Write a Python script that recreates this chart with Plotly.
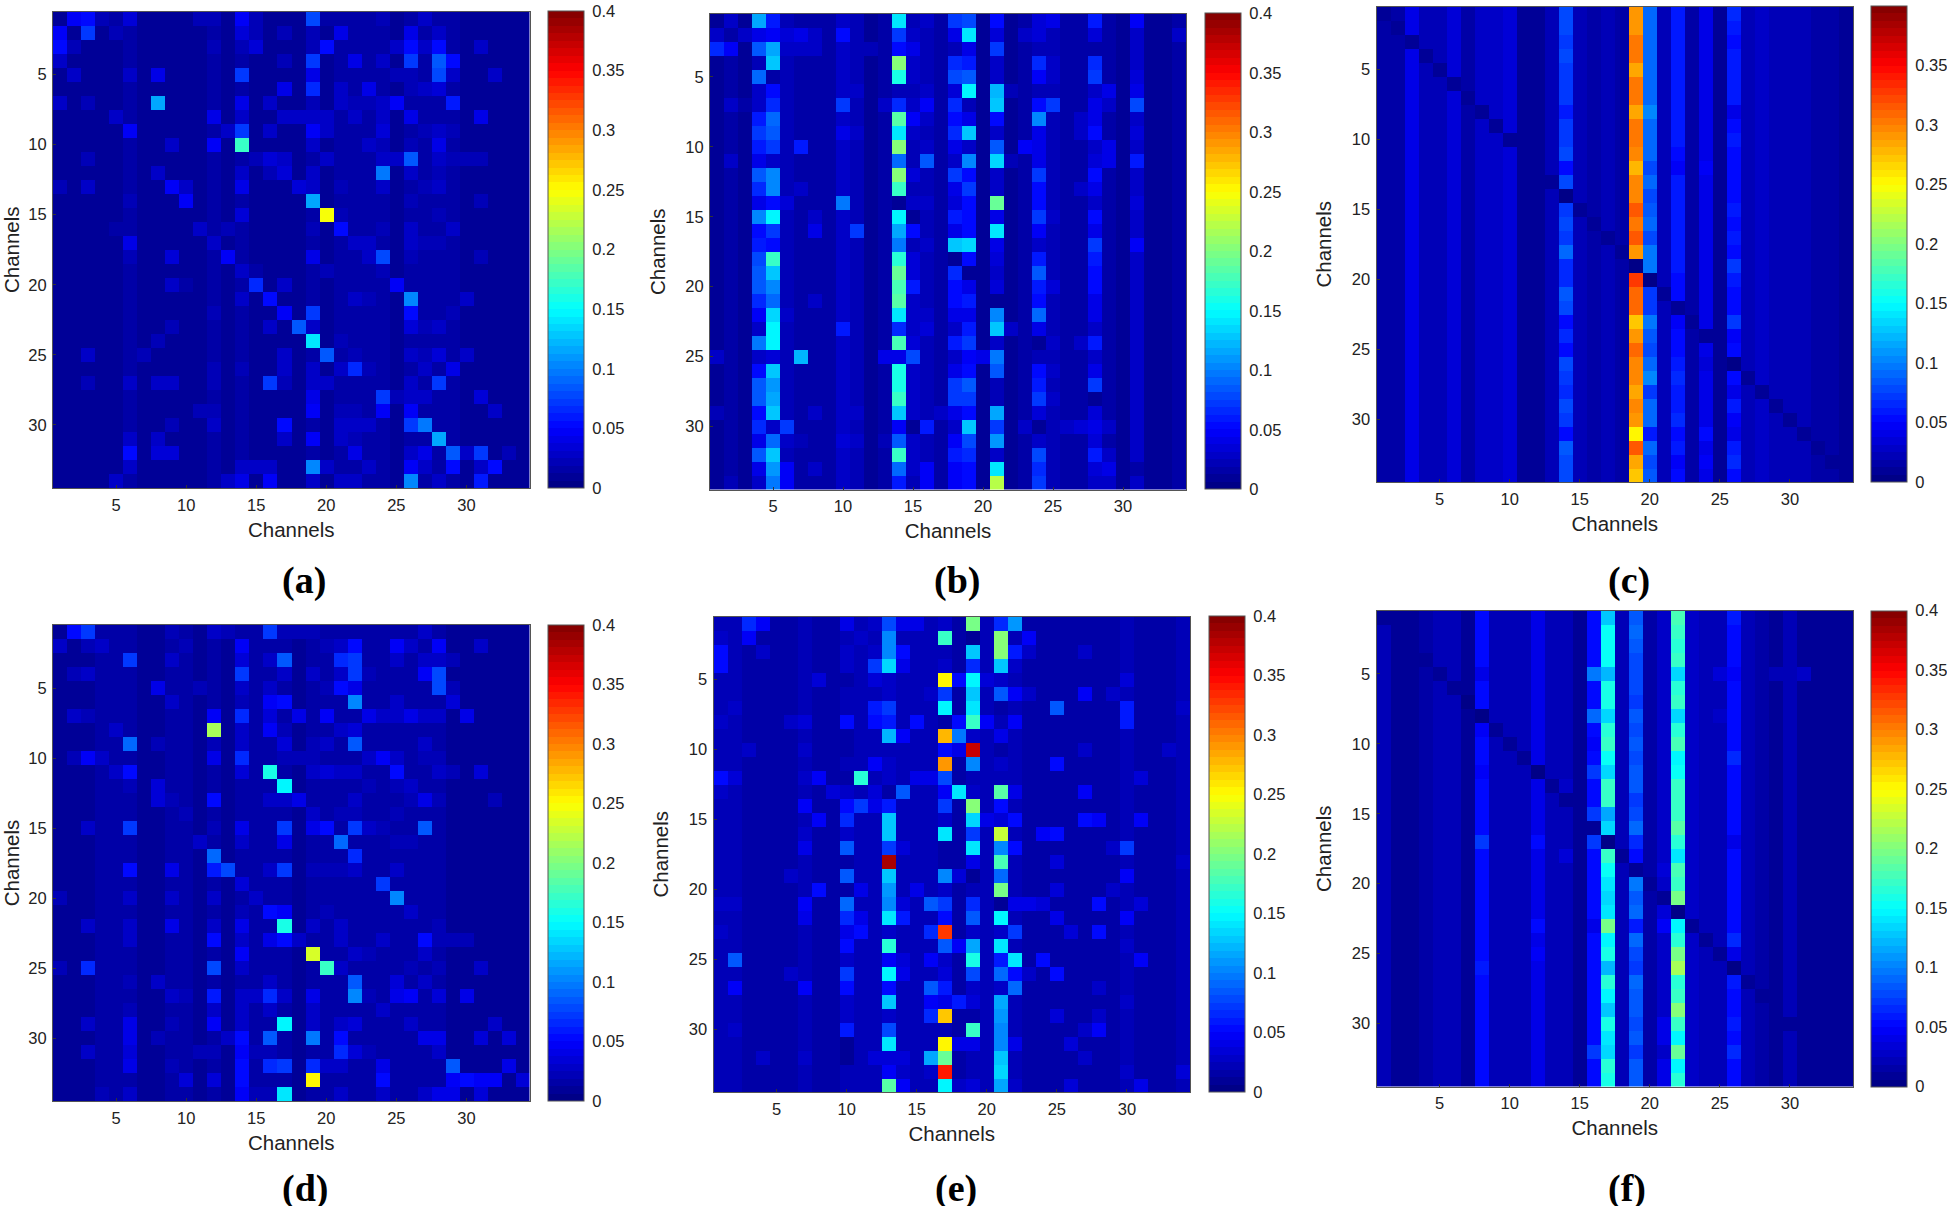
import plotly.graph_objects as go

# all values are thousandths of the colour scale (0 .. 400 -> 0 .. 0.4)
channels = list(range(1, 35))
tick_vals = [5, 10, 15, 20, 25, 30]
cbar_vals = [0, 0.05, 0.1, 0.15, 0.2, 0.25, 0.3, 0.35, 0.4]
cbar_text = ['0', '0.05', '0.1', '0.15', '0.2', '0.25', '0.3', '0.35', '0.4']

a_base = [12, 11, 11, 11, 12, 13, 11, 12, 12, 11, 11, 13, 11, 13, 12, 12, 12, 11, 16, 12, 13, 13, 13, 13, 12, 15, 13, 14, 13, 12, 12, 10, 10, 10]
a_cells = {
    1: {2: 45, 3: 50, 4: 20, 5: 15, 6: 35, 11: 20, 12: 20, 14: 45, 15: 20, 19: 80, 20: 18, 21: 18, 22: 18, 23: 18, 24: 20, 27: 30},
    2: {1: 45, 3: 75, 5: 20, 14: 35, 15: 20, 17: 20, 19: 20, 21: 40, 26: 40, 28: 25},
    3: {1: 55, 2: 20, 12: 20, 14: 20, 15: 35, 19: 20, 20: 50, 25: 30, 26: 50, 27: 25, 28: 50, 31: 30},
    4: {1: 30, 17: 20, 19: 70, 22: 40, 24: 25, 26: 70, 28: 85, 29: 50},
    5: {2: 30, 6: 25, 8: 40, 14: 70, 19: 40, 25: 20, 26: 20, 28: 80, 29: 30, 32: 25},
    6: {17: 40, 19: 65, 21: 30, 23: 40, 26: 20, 27: 25, 28: 35},
    7: {1: 25, 3: 20, 8: 115, 14: 40, 16: 25, 19: 20, 21: 30, 22: 20, 23: 20, 24: 30, 25: 45, 29: 60},
    8: {5: 25, 12: 40, 14: 30, 17: 30, 18: 30, 19: 30, 20: 25, 22: 25, 24: 25, 26: 40, 31: 40},
    9: {6: 45, 13: 30, 14: 70, 16: 25, 19: 45, 20: 30, 24: 35, 27: 20, 28: 25, 29: 20},
    10: {9: 25, 12: 45, 14: 175, 19: 25, 23: 25, 24: 20, 26: 20, 28: 40},
    11: {3: 20, 15: 20, 16: 35, 17: 25, 20: 25, 24: 30, 25: 30, 26: 85, 28: 30, 29: 20, 30: 20, 31: 20},
    12: {8: 25, 14: 30, 16: 20, 17: 35, 19: 30, 24: 95, 26: 30, 28: 20},
    13: {1: 20, 3: 30, 9: 45, 10: 25, 14: 40, 18: 35, 19: 30, 21: 20, 24: 30, 27: 20, 28: 30},
    14: {6: 20, 10: 45, 19: 115, 26: 20, 31: 20},
    15: {14: 35, 20: 245, 21: 20, 28: 20},
    16: {5: 15, 11: 30, 13: 20, 19: 20, 21: 50, 24: 20, 26: 30, 29: 25},
    17: {6: 40, 12: 30, 22: 25, 23: 25, 26: 30, 27: 20, 28: 20},
    18: {6: 20, 9: 35, 13: 45, 19: 40, 23: 30, 24: 80, 26: 20, 31: 20},
    19: {14: 25, 15: 15, 20: 20, 24: 20},
    20: {9: 25, 10: 15, 15: 65, 17: 25, 25: 45},
    21: {14: 25, 16: 55, 22: 30, 23: 20, 26: 105, 30: 25},
    22: {12: 20, 17: 45, 19: 70, 26: 55, 29: 20},
    23: {9: 20, 16: 25, 18: 85, 19: 30, 26: 35, 27: 20, 28: 30},
    24: {8: 20, 19: 140, 21: 20},
    25: {3: 30, 7: 20, 17: 30, 20: 85, 22: 20, 26: 30, 27: 20, 28: 35, 30: 30},
    26: {12: 20, 14: 20, 17: 30, 19: 30, 21: 30, 22: 65, 23: 20, 27: 30, 29: 40},
    27: {3: 20, 6: 25, 8: 30, 9: 30, 12: 20, 16: 70, 17: 20, 19: 30, 20: 25, 26: 30, 28: 75},
    28: {19: 40, 24: 70, 25: 20, 26: 25, 27: 25, 31: 35},
    29: {11: 20, 12: 20, 19: 45, 21: 20, 22: 20, 24: 45, 26: 45, 32: 25},
    30: {9: 20, 12: 25, 17: 50, 21: 30, 22: 30, 23: 25, 26: 75, 27: 95},
    31: {6: 30, 8: 25, 17: 30, 19: 45, 21: 25, 22: 20, 28: 115},
    32: {6: 55, 8: 35, 9: 35, 22: 40, 26: 30, 27: 40, 29: 85, 30: 30, 31: 70, 33: 20},
    33: {6: 30, 14: 30, 15: 25, 16: 25, 19: 100, 20: 30, 23: 30, 26: 45, 27: 30, 29: 55, 31: 30, 32: 55},
    34: {5: 25, 13: 25, 14: 40, 16: 45, 19: 30, 21: 25, 22: 25, 26: 105, 28: 30, 31: 60},
}

b_base = [12, 15, 10, 40, 90, 20, 18, 18, 15, 25, 20, 12, 15, 120, 30, 20, 18, 50, 60, 10, 60, 12, 15, 50, 22, 15, 18, 40, 18, 12, 25, 12, 12, 15]
b_cols = {
    4: [115, 40, 85, 20, 90, 30, 25, 60, 75, 60, 40, 85, 65, 40, 100, 50, 60, 80, 85, 85, 65, 45, 30, 95, 25, 50, 85, 85, 50, 65, 40, 85, 40, 30],
    5: [60, 45, 115, 125, 15, 50, 65, 90, 85, 70, 30, 100, 105, 55, 145, 75, 50, 175, 130, 100, 90, 135, 145, 145, 35, 130, 110, 115, 125, 25, 90, 125, 110, 95],
    14: [140, 70, 55, 200, 160, 20, 65, 185, 140, 200, 90, 200, 170, 10, 150, 115, 95, 165, 190, 180, 185, 140, 65, 180, 40, 160, 160, 170, 130, 45, 85, 175, 90, 60],
    15: [22, 25, 40, 30, 30, 22, 25, 45, 25, 20, 22, 35, 22, 25, 10, 50, 20, 35, 35, 60, 30, 30, 25, 35, 80, 30, 25, 25, 30, 8, 25, 25, 25, 22],
    18: [75, 40, 20, 65, 80, 35, 65, 50, 65, 40, 30, 70, 40, 35, 60, 40, 125, 10, 65, 55, 55, 40, 30, 60, 25, 40, 75, 70, 40, 30, 45, 60, 45, 45],
    19: [80, 140, 40, 60, 85, 145, 20, 40, 130, 30, 100, 50, 70, 50, 50, 50, 135, 50, 10, 40, 60, 40, 60, 70, 45, 50, 85, 70, 50, 130, 80, 65, 55, 50],
    21: [55, 35, 70, 25, 25, 120, 125, 50, 25, 85, 135, 30, 30, 190, 40, 140, 40, 35, 25, 35, 10, 105, 125, 30, 95, 85, 20, 20, 115, 75, 110, 30, 140, 220],
    24: [35, 35, 20, 65, 45, 20, 50, 105, 40, 40, 40, 75, 55, 55, 75, 45, 30, 60, 85, 60, 50, 90, 40, 12, 20, 55, 60, 75, 35, 12, 25, 80, 65, 75],
    28: [60, 35, 15, 65, 70, 25, 40, 40, 55, 30, 35, 55, 40, 30, 50, 40, 75, 60, 50, 50, 40, 40, 30, 60, 25, 40, 70, 10, 35, 40, 35, 60, 35, 30],
}
b_cells = {
    1: {2: 25, 10: 30, 16: 25, 25: 40, 31: 45},
    2: {1: 25, 3: 30, 6: 35, 7: 40, 8: 30, 10: 50, 23: 25, 25: 20, 31: 25, 34: 25},
    3: {1: 65, 2: 45, 6: 25, 7: 25, 8: 25, 12: 20},
    4: {25: 25, 31: 25},
    5: {25: 25, 31: 35},
    6: {10: 30, 11: 30, 16: 25, 22: 20, 29: 40, 31: 40},
    7: {2: 25, 3: 15, 10: 75, 13: 30, 16: 45, 25: 70, 29: 25, 31: 80},
    8: {16: 25, 27: 25, 31: 25},
    9: {10: 40, 11: 25, 27: 30, 31: 35},
    10: {7: 60, 16: 25, 23: 45, 29: 40},
    11: {2: 25, 16: 85, 22: 20, 29: 40, 31: 60},
    12: {10: 30, 31: 30},
    13: {6: 20, 7: 30, 10: 30, 27: 30},
    14: {6: 35, 10: 95, 16: 25, 31: 35},
    15: {8: 25, 10: 25, 25: 30},
    16: {8: 40, 11: 70, 25: 20},
    17: {16: 30, 31: 45},
    20: {10: 25, 25: 35},
    21: {8: 30, 31: 25},
    22: {6: 25, 16: 25},
    23: {10: 60, 16: 35, 22: 25},
    24: {25: 25, 27: 25},
    25: {1: 25, 7: 120, 10: 30, 13: 40, 20: 40},
    26: {25: 25},
    27: {31: 25},
    28: {25: 30, 27: 15},
    29: {1: 20, 8: 30, 11: 25, 17: 25},
    30: {6: 70, 16: 60, 23: 30, 26: 25, 27: 35, 29: 25, 31: 30},
    31: {6: 25, 7: 20, 10: 35, 11: 25, 13: 20},
    32: {29: 25},
    33: {6: 45, 7: 15, 8: 25, 16: 45, 29: 40, 31: 15},
    34: {2: 20, 6: 45, 16: 45, 29: 25, 31: 30},
}

c_base = [18, 18, 40, 20, 20, 35, 15, 25, 30, 35, 12, 12, 22, 75, 22, 18, 22, 15, 300, 90, 22, 60, 18, 40, 12, 60, 22, 30, 22, 20, 20, 15, 15, 12]
c_cols = {
    14: [80, 80, 75, 80, 75, 75, 75, 60, 70, 70, 80, 50, 80, 8, 70, 80, 70, 90, 65, 65, 85, 80, 55, 65, 55, 80, 75, 65, 80, 70, 50, 85, 80, 80],
    19: [290, 290, 305, 305, 285, 305, 305, 285, 305, 305, 295, 275, 300, 295, 315, 305, 315, 290, 5, 325, 310, 310, 270, 290, 310, 295, 295, 285, 295, 290, 250, 315, 285, 270],
    20: [90, 90, 90, 90, 90, 90, 90, 100, 90, 90, 90, 80, 90, 80, 85, 90, 80, 95, 95, 5, 75, 75, 95, 85, 80, 90, 100, 75, 90, 90, 60, 90, 80, 85],
    22: [60, 60, 60, 60, 60, 60, 60, 60, 60, 60, 55, 45, 60, 60, 60, 60, 60, 60, 60, 55, 55, 12, 45, 50, 50, 60, 65, 60, 60, 65, 50, 60, 45, 55],
    26: [65, 60, 55, 60, 60, 60, 60, 40, 55, 60, 50, 55, 55, 50, 60, 50, 60, 50, 70, 60, 50, 50, 70, 45, 50, 8, 50, 40, 60, 45, 40, 60, 65, 50],
}
c_cells = {
    12: {24: 45},
    26: {24: 35},
    27: {24: 40},
    30: {24: 40},
    31: {8: 30, 24: 50},
    33: {24: 45},
    34: {24: 40},
}

d_base = [12, 12, 12, 13, 13, 16, 12, 12, 13, 13, 12, 16, 12, 17, 13, 14, 14, 12, 14, 13, 14, 15, 13, 13, 13, 13, 13, 13, 12, 12, 12, 11, 11, 11]
d_cells = {
    1: {2: 50, 3: 70, 9: 20, 12: 25, 13: 20, 16: 70, 17: 20, 18: 20, 19: 20, 27: 25},
    2: {1: 30, 3: 20, 4: 25, 10: 20, 14: 45, 20: 20, 21: 25, 22: 55, 25: 45, 26: 30, 28: 45, 31: 25},
    3: {6: 75, 9: 25, 14: 35, 16: 25, 17: 85, 21: 65, 22: 75, 25: 30, 27: 25, 28: 25, 29: 20},
    4: {2: 20, 3: 25, 14: 75, 17: 25, 19: 30, 21: 25, 22: 70, 23: 20, 27: 45, 28: 80},
    5: {8: 40, 11: 20, 14: 30, 16: 30, 20: 20, 21: 50, 22: 40, 28: 80, 29: 20},
    6: {9: 25, 14: 20, 16: 45, 17: 50, 22: 100, 25: 25, 29: 35},
    7: {2: 25, 3: 20, 12: 45, 14: 65, 16: 35, 18: 40, 20: 45, 23: 40, 24: 25, 25: 25, 26: 40, 27: 30, 28: 25, 30: 40},
    8: {5: 25, 12: 215, 14: 25, 16: 45, 17: 20, 21: 25, 22: 35},
    9: {6: 90, 8: 20, 12: 20, 14: 25, 17: 35, 19: 20, 20: 30, 22: 85, 27: 25},
    10: {2: 20, 3: 45, 4: 30, 12: 40, 14: 65, 17: 20, 18: 20, 19: 20, 23: 25, 24: 45, 25: 25, 27: 20, 28: 20},
    11: {5: 25, 6: 50, 14: 35, 16: 160, 19: 30, 20: 35, 21: 25, 22: 25, 25: 55, 28: 25, 29: 20, 31: 35},
    12: {6: 20, 8: 35, 17: 145, 23: 20, 25: 20, 26: 25},
    13: {8: 35, 9: 20, 12: 55, 16: 25, 17: 30, 18: 40, 22: 30, 26: 20, 27: 40, 28: 20, 32: 20},
    14: {10: 20, 19: 25, 21: 20, 22: 20, 25: 20},
    15: {3: 30, 6: 75, 12: 20, 14: 40, 17: 70, 19: 40, 20: 50, 22: 70, 23: 25, 24: 20, 27: 85},
    16: {11: 30, 14: 30, 17: 40, 21: 90, 25: 20, 26: 20},
    17: {12: 90, 22: 65},
    18: {6: 55, 9: 40, 12: 60, 13: 80, 16: 30, 17: 70, 19: 20, 20: 20, 21: 20, 22: 30, 25: 30},
    19: {14: 35, 24: 70},
    20: {1: 20, 6: 25, 9: 25, 12: 30, 15: 30, 25: 100},
    21: {14: 20, 16: 55, 17: 45, 20: 20, 26: 30},
    22: {3: 25, 6: 30, 9: 40, 12: 25, 14: 40, 17: 160, 19: 25, 21: 30, 28: 20},
    23: {6: 30, 12: 55, 14: 30, 16: 40, 17: 55, 18: 30, 21: 25, 24: 25, 27: 55, 28: 20, 29: 20, 30: 20},
    24: {14: 45, 19: 235, 22: 25, 23: 20, 27: 30},
    25: {1: 20, 3: 65, 12: 80, 14: 30, 20: 170, 21: 30, 26: 20, 28: 20, 31: 30},
    26: {6: 20, 8: 25, 16: 30, 22: 85, 25: 35, 27: 25},
    27: {9: 25, 10: 20, 12: 60, 14: 30, 15: 25, 16: 65, 17: 25, 19: 40, 22: 105, 23: 20, 25: 40, 26: 45, 28: 35, 30: 40},
    28: {6: 20, 12: 30, 14: 25, 16: 30, 19: 30, 24: 25},
    29: {3: 25, 6: 40, 9: 20, 12: 45, 14: 25, 17: 150, 19: 25, 21: 30, 22: 35, 26: 30, 32: 25},
    30: {6: 40, 8: 20, 13: 30, 14: 50, 16: 85, 19: 95, 21: 50, 27: 40, 28: 40, 31: 35, 33: 35},
    31: {3: 25, 6: 35, 11: 20, 12: 20, 14: 45, 15: 20, 16: 20, 21: 65, 22: 35, 23: 20, 28: 30},
    32: {6: 40, 9: 20, 14: 50, 16: 65, 17: 70, 19: 65, 20: 30, 21: 25, 24: 40, 29: 85, 33: 40},
    33: {10: 35, 12: 35, 14: 50, 19: 250, 24: 50, 29: 45, 30: 50, 31: 45, 32: 45, 34: 35},
    34: {4: 20, 6: 25, 14: 45, 15: 20, 16: 20, 17: 140, 21: 30, 24: 25, 27: 30, 28: 40, 29: 40, 31: 35},
}

e_base = [20, 20, 18, 18, 18, 18, 20, 18, 18, 30, 22, 22, 50, 22, 20, 20, 30, 18, 30, 20, 30, 20, 18, 18, 18, 18, 18, 18, 18, 22, 18, 18, 15, 20]
e_cols = {
    10: [40, 20, 30, 25, 15, 20, 20, 55, 15, 15, 20, 15, 30, 55, 65, 25, 85, 15, 85, 15, 90, 65, 40, 50, 30, 70, 55, 25, 30, 60, 12, 12, 20, 20],
    13: [80, 100, 105, 135, 30, 25, 70, 60, 120, 20, 30, 30, 15, 60, 125, 125, 70, 385, 130, 110, 100, 140, 30, 165, 45, 150, 50, 125, 30, 80, 140, 35, 45, 185],
    17: [30, 175, 20, 30, 250, 75, 145, 15, 280, 50, 290, 80, 45, 70, 30, 140, 15, 15, 100, 25, 70, 50, 325, 85, 30, 35, 60, 40, 270, 20, 250, 190, 340, 150],
    19: [195, 10, 130, 65, 145, 130, 140, 175, 30, 370, 105, 20, 25, 200, 135, 70, 140, 40, 12, 20, 65, 85, 25, 115, 160, 80, 25, 35, 15, 175, 40, 20, 20, 35],
    21: [65, 205, 200, 130, 25, 85, 15, 20, 40, 15, 25, 20, 185, 55, 35, 225, 105, 180, 90, 195, 10, 145, 25, 140, 60, 90, 30, 115, 110, 100, 100, 130, 135, 115],
}
e_cells = {
    1: {3: 65, 4: 45, 12: 30, 14: 40, 15: 40, 22: 110},
    2: {1: 30, 3: 45, 11: 30, 22: 20, 23: 45},
    3: {1: 50, 4: 30, 12: 30, 14: 55, 22: 60, 23: 25, 27: 30},
    4: {1: 50, 12: 75, 14: 40, 22: 30},
    5: {8: 35, 12: 35, 18: 50, 20: 35, 30: 35},
    6: {16: 30, 22: 45, 23: 25, 27: 45, 29: 30},
    7: {2: 30, 12: 60, 25: 85, 30: 60, 34: 25},
    8: {1: 30, 6: 30, 7: 35, 12: 50, 15: 55, 18: 50, 20: 45, 22: 45, 30: 60},
    9: {14: 45, 18: 95},
    10: {3: 30, 7: 30, 18: 40, 27: 30, 33: 25},
    11: {12: 45, 25: 50},
    12: {1: 50, 2: 35, 7: 30, 8: 45, 11: 165, 15: 40, 16: 40, 31: 35},
    13: {1: 30, 9: 35, 12: 35, 14: 85, 18: 140, 22: 40, 27: 45},
    14: {7: 45, 11: 70, 12: 40},
    15: {8: 45, 20: 40, 22: 55, 27: 55, 28: 45, 31: 45},
    16: {7: 30, 24: 45, 25: 50},
    17: {7: 40, 14: 35, 22: 55, 29: 30, 30: 70},
    18: {25: 35, 34: 30},
    19: {6: 30, 18: 35, 30: 45},
    20: {8: 50, 11: 40, 15: 40, 25: 35, 29: 30},
    21: {1: 30, 2: 30, 7: 45, 14: 35, 16: 85, 22: 40, 23: 40, 24: 35, 28: 50, 31: 35},
    22: {7: 40, 11: 40, 14: 60, 25: 40, 30: 45},
    23: {1: 30, 11: 50, 16: 65, 22: 70, 26: 35, 28: 50},
    24: {18: 45, 30: 30},
    25: {2: 85, 14: 35, 16: 45, 22: 140, 24: 55, 31: 45},
    26: {6: 30, 14: 40, 22: 50, 23: 30, 25: 55},
    27: {2: 45, 7: 45, 16: 85, 22: 90, 28: 30},
    28: {16: 45, 18: 60, 30: 30},
    29: {16: 65, 25: 35, 28: 30},
    30: {2: 30, 27: 30, 28: 45},
    31: {18: 40, 22: 40, 26: 35},
    32: {4: 30, 7: 30, 12: 35, 14: 35, 16: 115, 27: 30},
    33: {14: 30, 16: 30, 30: 30, 34: 35},
    34: {14: 45, 18: 30, 22: 30, 26: 35, 31: 40},
}

f_base = [20, 12, 12, 15, 20, 22, 10, 55, 20, 20, 20, 40, 20, 22, 12, 50, 140, 22, 85, 18, 30, 160, 25, 22, 22, 55, 22, 18, 12, 20, 12, 12, 12, 12]
f_cols = {
    8: [55, 55, 55, 55, 40, 55, 55, 8, 45, 55, 55, 45, 55, 55, 55, 55, 70, 50, 55, 55, 55, 55, 55, 55, 50, 60, 55, 55, 55, 55, 55, 55, 55, 55],
    12: [40, 40, 40, 40, 40, 40, 40, 40, 40, 40, 40, 10, 40, 40, 40, 40, 50, 40, 40, 40, 40, 40, 50, 40, 45, 40, 40, 40, 40, 40, 40, 40, 40, 40],
    16: [50, 50, 50, 50, 95, 50, 50, 90, 55, 45, 55, 75, 55, 50, 70, 12, 70, 50, 50, 55, 55, 50, 40, 55, 50, 55, 50, 55, 50, 55, 50, 70, 55, 55],
    17: [130, 155, 155, 155, 120, 160, 160, 135, 165, 175, 155, 135, 175, 175, 115, 135, 5, 175, 155, 140, 135, 140, 195, 145, 160, 120, 165, 145, 125, 160, 140, 135, 165, 160],
    19: [85, 90, 85, 80, 80, 80, 70, 85, 80, 85, 80, 85, 85, 70, 80, 90, 65, 55, 12, 95, 85, 90, 60, 90, 80, 75, 90, 85, 85, 80, 85, 75, 85, 85],
    22: [180, 170, 165, 175, 135, 165, 175, 135, 165, 180, 145, 155, 175, 170, 170, 185, 165, 140, 180, 175, 195, 5, 145, 165, 195, 215, 165, 175, 205, 170, 145, 190, 145, 165],
    26: [60, 55, 55, 55, 45, 55, 55, 55, 55, 55, 65, 55, 55, 55, 55, 55, 40, 55, 55, 55, 55, 55, 55, 65, 40, 8, 60, 55, 55, 60, 55, 65, 55, 55],
}
f_cells = {
    5: {25: 35, 29: 20, 30: 20, 31: 30},
    8: {25: 30},
    13: {14: 30},
    18: {14: 35},
    19: {21: 35},
    20: {21: 30},
    22: {21: 35},
    23: {21: 45},
    24: {21: 30},
    30: {21: 40},
    31: {21: 40},
    33: {21: 40},
    34: {21: 40},
}

panel_labels = ['(a)', '(b)', '(c)', '(d)', '(e)', '(f)']


def build(base, cols, cells, dark_diag=False):
    """Сетка 34x34: фон столбцов, затем столбцы и отдельные ячейки."""
    z = [[base[c] / 1000 for c in range(34)] for r in range(34)]
    for c, vals in cols.items():
        for r in range(34):
            z[r][c - 1] = vals[r] / 1000
    for r, row in cells.items():
        for c, v in row.items():
            z[r - 1][c - 1] = v / 1000
    if dark_diag:
        for i in range(34):
            z[i][i] = min(z[i][i] * 0.55, 0.012)
    return z


def jet_scale(n=64):
    stops = []
    for i in range(n):
        t = (i + 0.5) / n
        r = min(max(min(4 * t - 1.5, -4 * t + 4.5), 0), 1)
        g = min(max(min(4 * t - 0.5, -4 * t + 3.5), 0), 1)
        b = min(max(min(4 * t + 0.5, -4 * t + 2.5), 0), 1)
        col = f'rgb({round(r * 255)},{round(g * 255)},{round(b * 255)})'
        stops.append([i / n, col])
        stops.append([(i + 1) / n, col])
    return stops


W, H = 1947, 1206
# (left, right, top, bottom, bar left, label x, label y) in pixels
boxes = [
    (53, 529.5, 11.5, 488, 548, 304, 580),
    (710, 1186, 14, 489.5, 1204.5, 957, 580),
    (1376.5, 1853, 6.5, 482, 1871, 1629, 580),
    (53, 529.5, 625, 1101, 548, 305, 1188),
    (713.5, 1190, 616.5, 1092, 1208.5, 956, 1188),
    (1376.5, 1853, 611, 1086.5, 1871, 1627, 1188),
]
matrices = [
    build(a_base, {}, a_cells),
    build(b_base, b_cols, b_cells),
    build(c_base, c_cols, c_cells, dark_diag=True),
    build(d_base, {}, d_cells),
    build(e_base, e_cols, e_cells),
    build(f_base, f_cols, f_cells, dark_diag=True),
]

font = 'Liberation Sans'
frame = '#555555'
fig = go.Figure()
scale = jet_scale()

for i, (box, z) in enumerate(zip(boxes, matrices)):
    left, right, top, bottom, bar, lx, ly = box
    n = '' if i == 0 else str(i + 1)
    fig.add_trace(go.Heatmap(
        x=channels, y=channels, z=z, zmin=0, zmax=0.4, colorscale=scale,
        xaxis='x' + n, yaxis='y' + n,
        colorbar=dict(
            x=bar / W, xanchor='left', xpad=0, ypad=0,
            y=1 - bottom / H, yanchor='bottom',
            len=bottom - top, lenmode='pixels', thickness=36,
            tickvals=cbar_vals, ticktext=cbar_text, ticks='outside', ticklen=5,
            tickcolor='rgba(0,0,0,0)', outlinecolor=frame, outlinewidth=1,
            tickfont=dict(family=font, size=16.5, color='#222222'))))
    axis = dict(tickvals=tick_vals, ticks='inside', ticklen=3, tickcolor='#333333', mirror=True,
                showline=True, linecolor=frame, linewidth=1, showgrid=False, zeroline=False,
                tickfont=dict(family=font, size=16.5, color='#222222'), ticklabelstandoff=2)
    title_font = dict(family=font, size=20.5, color='#222222')
    fig.update_layout({
        'xaxis' + n: dict(axis, domain=[left / W, right / W], range=[0.5, 34.5], anchor='y' + n,
                          title=dict(text='Channels', font=title_font, standoff=9)),
        'yaxis' + n: dict(axis, domain=[1 - bottom / H, 1 - top / H], range=[34.5, 0.5], anchor='x' + n,
                          title=dict(text='Channels', font=title_font, standoff=14)),
    })
    fig.add_annotation(text=f'<b>{panel_labels[i]}</b>', x=lx / W, y=1 - ly / H, xref='paper', yref='paper',
                       xanchor='center', yanchor='middle', showarrow=False,
                       font=dict(family='Liberation Serif', size=38, color='black'))

fig.update_layout(width=W, height=H, margin=dict(l=0, r=0, t=0, b=0, autoexpand=False),
                  paper_bgcolor='white', plot_bgcolor='white')

fig.write_html('out.html', config={'displayModeBar': False},
               post_script="document.body.style.margin='0';")
